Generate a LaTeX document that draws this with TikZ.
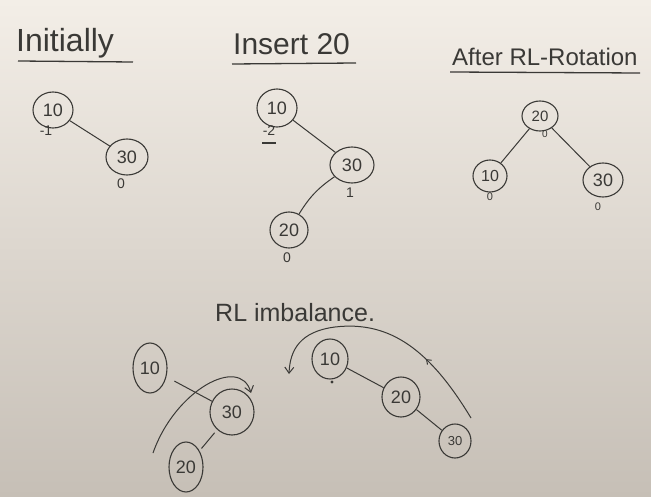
\documentclass[tikz,border=0pt]{standalone}
\usepackage{fontspec}
\setmainfont{Liberation Sans}
\usetikzlibrary{shapes.geometric,arrows.meta,decorations.markings}
\definecolor{ink}{HTML}{3A3936}
\definecolor{boardtop}{HTML}{F3EEE7}
\definecolor{boardbot}{HTML}{C6BFB6}
\tikzset{
  tnode/.style={ellipse, draw=ink, line width=1.1pt, inner sep=0pt,
                text=ink, font=\fontsize{18}{18}\selectfont},
  bal/.style={text=ink, inner sep=0pt, font=\fontsize{14}{14}\selectfont},
  title/.style={text=ink, inner sep=0pt, anchor=base west},
  edge/.style={draw=ink, line width=1.0pt},
  uline/.style={draw=ink, line width=1.3pt},
  hand/.style={draw=ink, line width=1.0pt, -{Straight Barb[length=6pt,width=9pt]}},
}
\begin{document}
\begin{tikzpicture}[x=1pt,y=-1pt]
  % board
  \useasboundingbox (0,0) rectangle (651,497);
  \shade[top color=boardtop, bottom color=boardbot] (0,0) rectangle (651,497);

  % ---- titles ----
  \node[title, font=\fontsize{32}{32}\selectfont] (t1) at (16,52) {Initially};
  \draw[uline] (18,61) -- (133,62);
  \node[title, font=\fontsize{30}{30}\selectfont] (t2) at (233,55) {Insert 20};
  \draw[uline] (232,64) -- (356,63);
  \node[title, font=\fontsize{24}{24}\selectfont] (t3) at (452,66) {After RL-Rotation};
  \draw[uline] (450,72) -- (640,73);
  \node[title, font=\fontsize{25}{25}\selectfont] (t4) at (215,321) {RL imbalance.};

  % ---- initially ----
  \node[tnode, minimum width=40pt, minimum height=36pt] (a10) at (53,110) {10};
  \node[tnode, minimum width=42pt, minimum height=36pt] (a30) at (127,157) {30};
  \draw[edge] (a10) -- (a30);
  \node[bal] (a10b) at (46,131) {-1};
  \node[bal] (a30b) at (121,184) {0};

  % ---- insert 20 ----
  \node[tnode, minimum width=40pt, minimum height=38pt] (m10) at (277,108) {10};
  \node[tnode, minimum width=44pt, minimum height=36pt] (m30) at (352,165) {30};
  \node[tnode, minimum width=38pt, minimum height=36pt] (m20) at (289,230) {20};
  \draw[edge] (m10) -- (m30);
  \draw[edge] (m30) to[bend right=12] (m20);
  \node[bal] (m10b) at (269,131) {-2};
  \draw[uline, line width=2pt] (262,143) -- (276,143);
  \node[bal] (m30b) at (350,193) {1};
  \node[bal] (m20b) at (287,258) {0};

  % ---- after RL-rotation ----
  \node[tnode, minimum width=36pt, minimum height=30pt, font=\fontsize{15}{15}\selectfont] (r20) at (540,116) {20};
  \node[tnode, minimum width=34pt, minimum height=32pt, font=\fontsize{16}{16}\selectfont] (r10) at (490,176) {10};
  \node[tnode, minimum width=40pt, minimum height=34pt] (r30) at (603,180) {30};
  \draw[edge] (r20) -- (r10);
  \draw[edge] (r20) -- (r30);
  \node[bal, font=\fontsize{10}{10}\selectfont] (r20b) at (545,134) {0};
  \node[bal, font=\fontsize{11}{11}\selectfont] (r10b) at (490,197) {0};
  \node[bal, font=\fontsize{11}{11}\selectfont] (r30b) at (598,207) {0};

  % ---- RL imbalance, before ----
  \node[tnode, minimum width=34pt, minimum height=50pt] (b10) at (150,368) {10};
  \node[tnode, minimum width=44pt, minimum height=46pt] (b30) at (232,412) {30};
  \node[tnode, minimum width=34pt, minimum height=50pt] (b20) at (186,467) {20};
  \draw[edge, shorten <=9pt] (b10) -- (b30);
  \draw[edge, shorten >=3pt, shorten <=4pt] (b30) -- (b20);
  \coordinate (ca) at (153,453);
  \coordinate (cb) at (251,393);
  \draw[hand] (ca) .. controls (175,390) and (240,355) .. (cb);

  % ---- RL imbalance, rotating ----
  \node[tnode, minimum width=36pt, minimum height=40pt] (c10) at (330,359) {10};
  \node[tnode, minimum width=38pt, minimum height=40pt] (c20) at (401,397) {20};
  \node[tnode, minimum width=32pt, minimum height=34pt, font=\fontsize{13}{13}\selectfont] (c30) at (455,441) {30};
  \draw[edge] (c10) -- (c20);
  \draw[edge] (c20) -- (c30);
  \fill[ink] (332,382) circle (1.6pt);
  \coordinate (ea) at (471,418);
  \coordinate (ep) at (335,327);
  \coordinate (eb) at (289,374);
  \draw[hand, postaction={decorate}, decoration={markings,
        mark=at position 0.3 with {\arrow{Straight Barb[length=4pt,width=6pt]}}}]
    (ea) .. controls (430,350) and (390,320.5) .. (ep)
         .. controls (300,331.5) and (290,350) .. (eb);
\end{tikzpicture}
\end{document}
